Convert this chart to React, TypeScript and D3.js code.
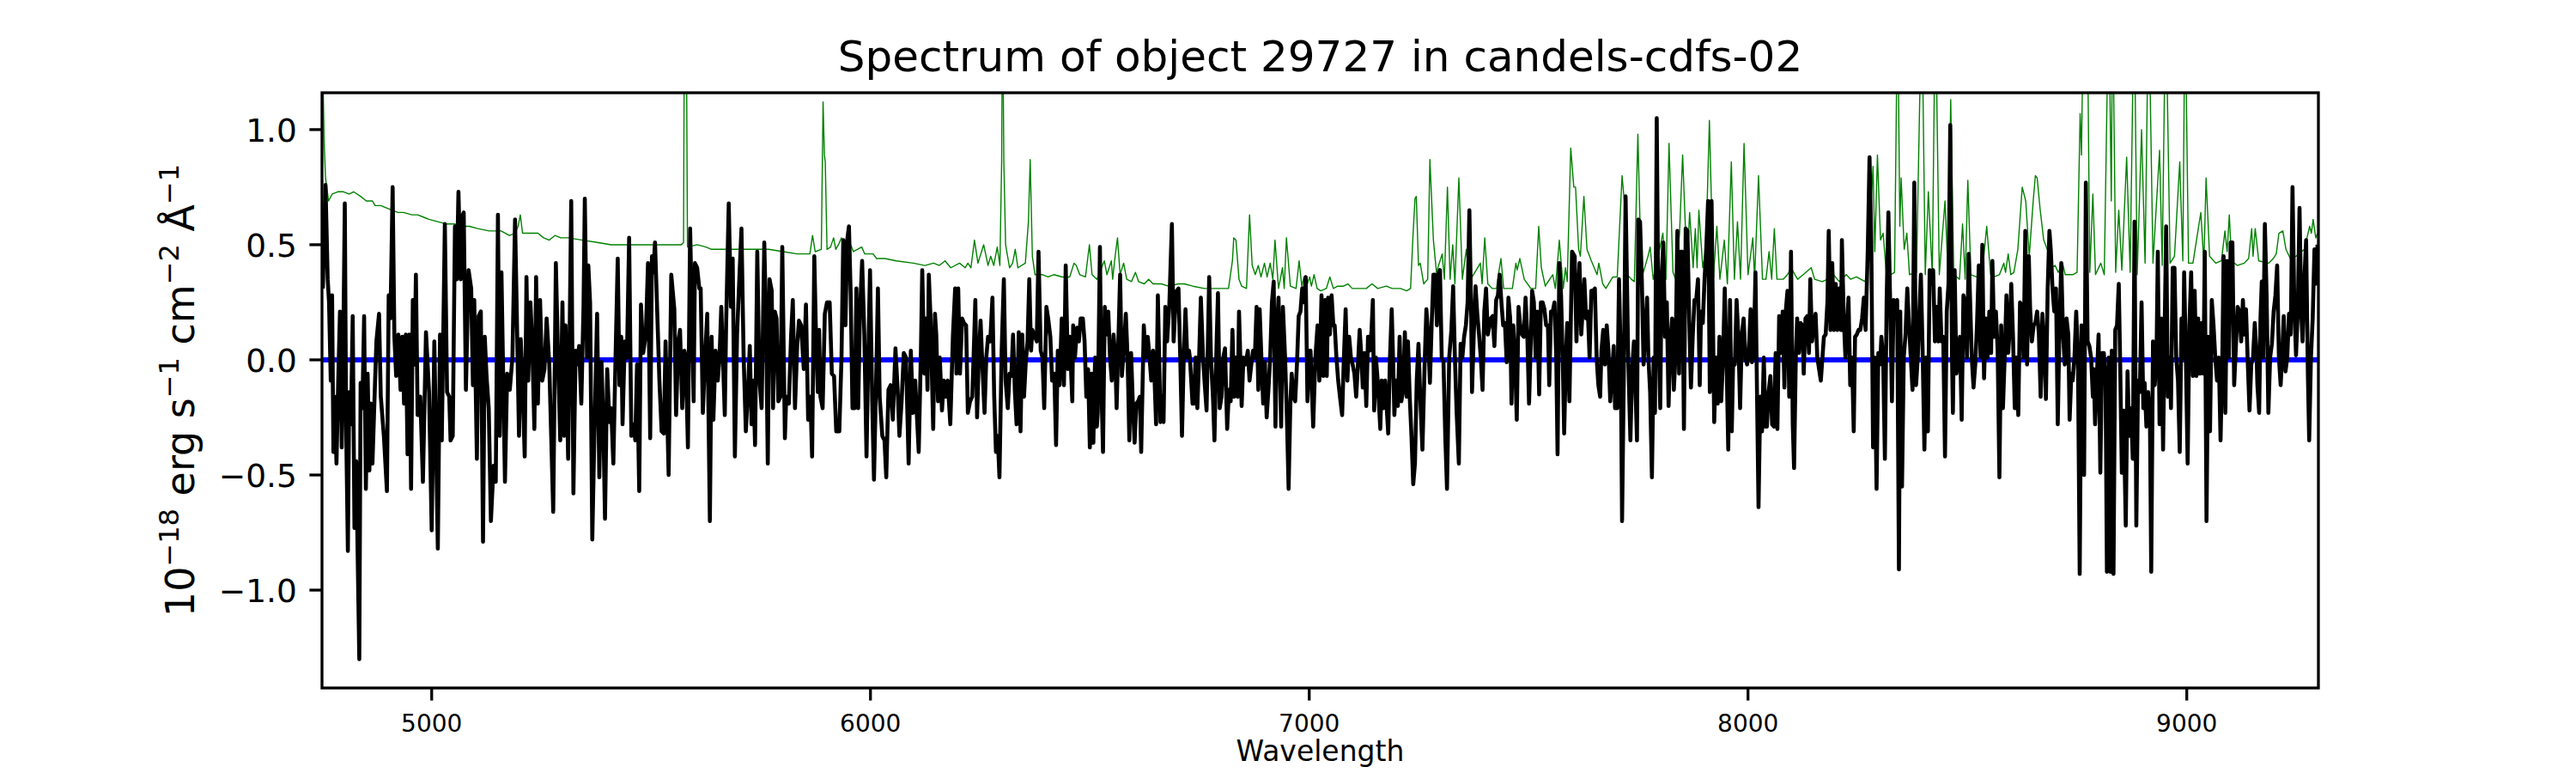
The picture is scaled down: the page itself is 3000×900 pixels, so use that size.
import React from "react";
import * as d3 from "d3";

const W = 3000;
const H = 900;
const M = { left: 375, right: 2700, top: 108, bottom: 801 };
const FONT = "DejaVu Sans";

const titleText = "Spectrum of object 29727 in candels-cdfs-02";
const xLabel = "Wavelength";
const xDomain: [number, number] = [4750, 9300];
const yDomain: [number, number] = [-1.425, 1.16];
const xTicks = [5000, 6000, 7000, 8000, 9000];
const yTicks = [-1.0, -0.5, 0.0, 0.5, 1.0];

// zero / model line (blue)
const zeroLine: [number, number][] = [[4750, 0], [9300, 0]];

// observed flux (black), 1e-18 erg/s/cm2/A
const spectrum: [number, number][] = [
[4752,0.31],[4758,0.76],[4763,0.35],[4766,0.25],[4770,-0.09],[4773,0.28],[4776,-0.40],[4779,-0.16],[4783,-0.45],[4787,-0.09],[4791,0.21],[4795,-0.38],[4799,0.15],[4802,0.68],[4805,-0.29],[4809,-0.83],[4812,-0.14],[4816,-0.28],[4820,0.19],[4824,-0.73],[4828,-0.44],[4835,-1.30],[4838,-0.10],[4842,-0.21],[4846,0.19],[4850,-0.56],[4854,-0.06],[4858,-0.48],[4861,-0.19],[4865,-0.45],[4871,-0.09],[4874,0.08],[4880,0.20],[4884,-0.16],[4891,-0.33],[4898,-0.57],[4902,0.28],[4906,0.18],[4911,0.75],[4915,0.10],[4919,-0.07],[4924,0.11],[4929,-0.13],[4933,0.10],[4937,-0.19],[4941,0.11],[4945,-0.41],[4949,0.11],[4953,-0.56],[4957,0.26],[4961,-0.02],[4964,0.37],[4968,-0.24],[4974,-0.16],[4980,-0.53],[4987,0.12],[4994,-0.14],[5000,-0.74],[5006,0.08],[5014,-0.82],[5019,0.11],[5023,-0.35],[5030,0.59],[5035,-0.14],[5040,-0.16],[5043,-0.35],[5048,-0.33],[5053,0.58],[5057,0.35],[5061,0.73],[5066,0.35],[5069,0.62],[5073,0.64],[5078,-0.13],[5084,0.39],[5090,0.31],[5094,-0.11],[5097,0.26],[5103,-0.43],[5107,0.19],[5112,0.21],[5117,-0.79],[5121,0.10],[5125,-0.07],[5130,-0.21],[5135,-0.70],[5141,-0.46],[5146,-0.53],[5151,0.63],[5155,-0.33],[5159,0.38],[5167,-0.53],[5172,-0.06],[5178,-0.13],[5184,0.01],[5190,0.61],[5194,0.20],[5199,-0.33],[5203,0.09],[5207,-0.09],[5212,-0.42],[5216,0.36],[5220,-0.09],[5225,0.25],[5229,0.08],[5234,-0.30],[5238,0.36],[5242,-0.19],[5247,0.26],[5252,-0.09],[5257,-0.04],[5262,0.18],[5268,-0.02],[5277,-0.66],[5283,0.42],[5288,0.01],[5293,-0.35],[5298,0.25],[5302,-0.33],[5305,0.15],[5311,-0.43],
[5318,0.69],[5323,-0.58],[5328,0.04],[5332,-0.02],[5336,0.06],[5341,-0.19],[5346,0.23],[5349,0.70],[5354,0.01],[5357,0.41],[5361,0.25],[5366,-0.78],[5370,-0.40],[5377,0.20],[5382,-0.51],[5387,-0.01],[5391,-0.26],[5395,-0.69],[5400,-0.04],[5405,-0.27],[5409,-0.21],[5414,-0.45],[5419,0.01],[5424,0.44],[5428,-0.11],[5432,0.10],[5435,-0.28],[5440,0.08],[5445,0.01],[5450,0.53],[5455,-0.33],[5460,-0.28],[5464,-0.35],[5468,-0.02],[5473,-0.57],[5477,0.24],[5482,0.03],[5488,0.11],[5493,0.42],[5498,-0.34],[5502,0.45],[5505,0.38],[5509,0.51],[5514,0.21],[5519,-0.09],[5524,-0.31],[5529,-0.32],[5533,0.08],[5540,-0.50],[5546,0.37],[5553,0.22],[5557,-0.24],[5562,0.08],[5566,0.13],[5571,-0.21],[5576,0.04],[5579,0.01],[5584,-0.38],[5589,0.57],[5593,0.20],[5597,-0.18],[5600,0.42],[5605,0.40],[5610,0.31],[5613,0.31],[5618,-0.23],[5623,0.01],[5628,0.20],[5634,-0.70],[5638,0.10],[5642,-0.26],[5647,0.04],[5652,-0.09],[5656,0.01],[5660,0.23],[5668,-0.24],[5671,0.15],[5677,0.68],[5682,0.23],[5686,0.44],[5691,-0.42],[5696,0.11],[5700,0.30],[5706,0.57],[5711,0.01],[5716,-0.31],[5721,-0.13],[5725,0.06],[5729,-0.28],[5733,-0.09],[5737,-0.37],[5742,0.47],[5747,-0.09],[5752,-0.21],[5758,0.51],[5762,0.18],[5766,-0.45],[5770,0.35],[5775,0.30],[5778,-0.21],[5782,0.21],[5786,0.18],[5790,-0.18],[5795,-0.16],[5799,0.49],[5805,-0.34],[5808,-0.16],[5814,-0.19],[5819,0.10],[5823,0.26],[5828,-0.21],[5833,0.06],[5837,0.17],[5842,0.15],[5848,-0.04],[5853,0.24],[5858,-0.26],[5863,-0.16],[5867,-0.42],[5872,0.45],[5876,0.10],[5880,-0.14],[5883,0.13],
[5886,-0.16],[5891,-0.21],[5896,0.20],[5901,0.25],[5907,0.25],[5912,-0.06],[5917,-0.07],[5922,-0.31],[5929,-0.31],[5934,0.01],[5938,0.52],[5943,0.15],[5947,0.52],[5951,0.58],[5955,0.28],[5959,-0.21],[5964,-0.21],[5968,0.31],[5972,-0.21],[5976,0.20],[5981,0.43],[5986,0.11],[5991,-0.42],[5995,0.01],[5999,0.39],[6004,-0.18],[6008,-0.52],[6014,0.01],[6017,0.31],[6021,-0.16],[6027,-0.33],[6032,-0.35],[6036,-0.51],[6041,-0.13],[6046,-0.11],[6051,-0.26],[6057,0.05],[6062,-0.13],[6066,-0.33],[6071,-0.18],[6076,0.03],[6081,0.01],[6087,-0.45],[6092,0.04],[6097,-0.23],[6102,-0.09],[6105,-0.21],[6110,-0.40],[6115,0.04],[6118,0.39],[6123,-0.06],[6126,0.18],[6130,-0.13],[6133,0.37],[6137,0.18],[6143,-0.30],[6147,0.20],[6150,0.11],[6154,-0.18],[6158,0.01],[6163,-0.22],[6167,-0.09],[6171,-0.16],[6176,-0.09],[6182,-0.28],[6188,0.11],[6193,0.31],[6196,-0.06],[6200,0.31],[6204,-0.06],[6209,0.18],[6213,0.16],[6218,0.15],[6222,-0.23],[6227,-0.18],[6232,-0.16],[6235,0.01],[6239,0.26],[6243,-0.25],[6247,0.01],[6251,0.17],[6255,-0.02],[6260,-0.23],[6264,0.01],[6268,0.10],[6273,0.08],[6278,0.27],[6282,-0.16],[6286,-0.40],[6290,-0.33],[6294,-0.51],[6299,0.04],[6304,0.35],[6308,-0.09],[6313,-0.21],[6317,-0.06],[6321,-0.07],[6325,0.11],[6329,-0.13],[6333,-0.28],[6338,0.12],[6342,-0.31],[6346,0.11],[6350,-0.16],[6354,-0.01],[6358,0.08],[6362,0.35],[6366,0.04],[6369,0.13],[6373,0.11],[6379,0.08],[6383,0.47],[6388,0.04],[6392,0.01],[6396,-0.21],[6401,0.23],[6405,0.18],[6410,0.10],[6414,-0.09],[6419,-0.06],[6423,-0.37],[6427,0.04],[6431,-0.11],[6436,0.18],[6441,-0.11],[6445,0.41],[6450,-0.04],[6454,0.10],
[6460,-0.18],[6462,0.15],[6466,0.01],[6471,0.14],[6475,0.08],[6479,0.18],[6484,0.18],[6488,0.08],[6492,-0.16],[6496,-0.04],[6500,-0.38],[6504,-0.06],[6508,-0.36],[6512,0.01],[6516,-0.29],[6518,-0.23],[6523,0.49],[6526,-0.09],[6530,-0.40],[6534,0.23],[6538,0.11],[6542,0.21],[6546,0.01],[6550,-0.09],[6554,0.11],[6558,0.01],[6561,-0.21],[6565,0.08],[6569,0.37],[6573,-0.07],[6577,0.03],[6582,0.20],[6586,0.01],[6590,-0.35],[6594,0.03],[6598,-0.19],[6602,-0.36],[6606,-0.19],[6610,-0.18],[6614,-0.16],[6617,-0.40],[6623,0.15],[6627,0.01],[6632,0.10],[6636,0.01],[6640,-0.09],[6644,0.04],[6647,-0.06],[6651,-0.28],[6655,0.28],[6661,-0.27],[6664,-0.16],[6668,-0.27],[6672,0.23],[6676,0.08],[6681,0.23],[6687,0.59],[6691,0.08],[6694,0.20],[6698,0.30],[6702,0.31],[6706,0.01],[6710,-0.33],[6714,0.01],[6718,0.22],[6722,0.01],[6726,0.04],[6728,0.01],[6734,-0.19],[6737,-0.19],[6741,0.01],[6745,-0.21],[6749,0.01],[6753,0.27],[6758,0.01],[6762,-0.11],[6766,-0.22],[6772,0.36],[6776,0.01],[6781,-0.18],[6784,-0.35],[6788,0.01],[6792,0.29],[6796,-0.21],[6800,-0.16],[6804,0.01],[6808,0.05],[6813,-0.30],[6817,-0.13],[6821,-0.18],[6825,0.13],[6829,-0.16],[6833,0.01],[6837,-0.16],[6840,0.21],[6846,-0.20],[6850,0.01],[6855,-0.02],[6860,0.04],[6864,-0.09],[6868,-0.02],[6872,0.04],[6876,0.01],[6880,0.23],[6884,-0.13],[6887,0.22],[6891,0.01],[6895,-0.19],[6899,-0.01],[6903,-0.25],[6907,-0.13],[6911,0.01],[6915,0.25],[6919,0.34],[6923,-0.29],[6927,0.15],[6930,0.27],[6936,-0.29],[6940,0.23],[6945,0.01],[6949,-0.24],[6953,-0.56],[6957,-0.19],[6960,-0.06],[6964,-0.16],[6968,-0.18],[6972,-0.02],[6976,0.19],[6980,0.21],[6984,0.31],[6988,0.25],[6992,0.36],[6996,-0.18],[7000,0.04],[7003,0.04],[7009,-0.29],[7014,0.01],[7019,0.15],[7023,-0.09],
[7028,0.28],[7032,-0.07],[7036,0.26],[7040,-0.07],[7043,0.27],[7047,0.11],[7051,0.28],[7055,0.15],[7058,0.15],[7062,0.01],[7066,-0.09],[7070,-0.16],[7075,-0.24],[7079,0.01],[7083,0.22],[7087,-0.09],[7091,0.10],[7095,0.01],[7099,-0.02],[7103,-0.06],[7107,-0.16],[7111,-0.02],[7115,0.13],[7118,0.04],[7122,-0.12],[7126,0.03],[7130,-0.20],[7134,0.10],[7138,0.04],[7142,0.13],[7145,0.26],[7148,-0.22],[7152,0.01],[7156,-0.09],[7162,-0.30],[7165,-0.09],[7169,-0.21],[7173,-0.09],[7180,-0.32],[7184,0.01],[7188,0.22],[7191,0.01],[7194,-0.24],[7198,-0.09],[7202,-0.20],[7206,0.10],[7210,-0.18],[7214,-0.13],[7218,0.12],[7222,-0.16],[7225,0.08],[7229,-0.16],[7233,-0.33],[7237,-0.54],[7241,-0.45],[7245,-0.09],[7249,0.07],[7253,-0.16],[7258,-0.39],[7263,-0.02],[7267,0.22],[7271,0.11],[7275,-0.10],[7279,0.15],[7283,0.37],[7287,0.37],[7291,0.15],[7295,0.38],[7298,0.39],[7302,0.01],[7306,-0.01],[7310,-0.33],[7314,-0.56],[7319,0.01],[7324,0.13],[7328,0.32],[7332,0.01],[7336,-0.23],[7341,-0.45],[7345,0.07],[7349,0.01],[7353,0.10],[7357,0.15],[7361,0.25],[7365,0.65],[7369,0.21],[7371,-0.14],[7375,0.11],[7379,0.32],[7383,0.20],[7387,0.11],[7391,0.01],[7395,-0.13],[7399,0.21],[7403,0.31],[7407,0.11],[7411,0.15],[7414,0.18],[7418,0.19],[7422,0.06],[7426,0.26],[7430,0.28],[7434,0.37],[7438,0.25],[7442,0.15],[7446,0.16],[7450,-0.01],[7454,0.27],[7458,0.18],[7461,-0.19],[7465,0.15],[7469,0.01],[7473,-0.26],[7477,0.23],[7481,0.15],[7485,0.11],[7489,0.10],[7493,0.27],[7497,0.11],[7501,-0.19],[7504,0.01],[7508,0.30],[7512,0.25],[7516,0.01],[7520,0.21],[7524,-0.15],[7528,0.25],[7532,0.25],[7536,0.22],[7540,0.15],[7544,0.15],[7547,-0.11],[7551,0.21],[7555,0.21],[7559,0.25],[7563,0.01],[7566,-0.41],[7570,0.42],[7574,0.28],[7578,-0.02],[7581,-0.32],[7585,0.01],[7588,0.16],[7593,-0.18],
[7599,0.47],[7605,0.45],[7609,0.08],[7612,0.25],[7616,0.42],[7620,0.11],[7623,0.21],[7627,0.35],[7631,0.18],[7635,0.21],[7639,0.01],[7643,0.30],[7647,0.30],[7651,0.31],[7655,0.01],[7659,-0.11],[7663,-0.16],[7666,0.04],[7670,0.13],[7674,-0.02],[7678,0.15],[7682,0.04],[7686,-0.18],[7690,-0.06],[7694,0.06],[7697,-0.21],[7702,-0.21],[7706,0.35],[7710,0.01],[7713,-0.70],[7717,-0.06],[7721,0.71],[7727,0.01],[7732,-0.35],[7736,-0.04],[7740,0.08],[7743,-0.09],[7747,-0.35],[7750,0.61],[7754,0.60],[7758,0.35],[7762,-0.02],[7766,0.13],[7770,0.27],[7773,0.01],[7777,-0.14],[7781,-0.51],[7785,0.01],[7788,-0.23],[7792,1.05],[7796,0.11],[7800,-0.21],[7803,0.35],[7807,0.51],[7811,0.10],[7815,0.25],[7819,-0.20],[7823,0.08],[7827,0.18],[7831,-0.13],[7835,0.03],[7839,0.56],[7843,-0.06],[7846,0.47],[7850,0.47],[7854,-0.30],[7858,0.57],[7862,0.56],[7866,0.18],[7870,-0.12],[7874,0.10],[7878,0.26],[7882,0.26],[7886,0.35],[7890,-0.11],[7893,0.21],[7897,0.16],[7901,0.35],[7905,0.49],[7909,0.69],[7913,-0.14],[7917,0.69],[7921,0.03],[7923,-0.27],[7927,0.01],[7931,-0.19],[7935,0.10],[7939,-0.18],[7943,0.00],[7947,0.31],[7951,0.01],[7955,-0.39],[7959,0.26],[7963,-0.31],[7966,-0.02],[7970,-0.02],[7974,0.26],[7978,0.10],[7982,-0.21],[7986,0.11],[7990,0.18],[7994,0.01],[7998,-0.02],[8002,0.04],[8006,0.22],[8009,-0.01],[8013,0.03],[8017,0.38],[8021,-0.21],[8024,-0.64],[8028,-0.16],[8032,-0.31],[8036,0.01],[8040,-0.29],[8043,-0.29],[8047,-0.14],[8051,-0.07],[8055,-0.28],[8059,-0.29],[8063,0.03],[8067,-0.30],[8071,0.19],[8075,0.03],[8079,0.21],[8083,-0.12],[8086,0.21],[8090,0.30],[8094,-0.16],[8098,0.47],[8102,-0.28],[8105,-0.47],[8109,0.01],[8112,0.18],[8116,0.03],[8120,0.16],[8124,0.15],[8127,-0.06],[8131,0.18],[8135,0.19],[8139,0.03],[8142,0.35],[8146,0.08],[8150,0.15],[8154,0.20],[8158,0.01],[8166,-0.09],
[8173,0.10],[8177,0.11],[8181,0.25],[8184,0.56],[8188,0.13],[8192,0.42],[8196,0.13],[8200,0.33],[8204,0.13],[8208,0.31],[8212,0.13],[8214,0.52],[8218,0.20],[8222,0.01],[8226,0.15],[8229,0.27],[8233,-0.11],[8237,0.01],[8241,-0.31],[8244,0.10],[8248,0.11],[8252,0.13],[8256,0.13],[8260,0.18],[8264,0.27],[8268,0.13],[8273,0.48],[8277,0.88],[8281,0.52],[8285,-0.38],[8289,0.01],[8293,-0.56],[8297,0.03],[8301,-0.02],[8304,0.10],[8308,0.01],[8312,-0.43],[8316,0.26],[8320,0.64],[8324,0.25],[8328,-0.18],[8332,0.26],[8336,0.18],[8340,0.26],[8344,-0.91],[8347,0.21],[8351,-0.55],[8355,0.01],[8359,0.11],[8363,0.31],[8367,0.15],[8371,0.01],[8375,-0.13],[8379,0.77],[8383,-0.11],[8387,0.01],[8390,0.18],[8394,0.37],[8398,0.04],[8402,-0.39],[8406,0.01],[8410,-0.31],[8414,0.39],[8418,0.33],[8422,0.39],[8426,0.08],[8430,0.23],[8434,0.08],[8437,0.31],[8441,0.08],[8445,0.10],[8449,-0.42],[8453,0.21],[8457,0.33],[8461,1.02],[8465,0.01],[8467,-0.23],[8471,0.39],[8475,-0.06],[8479,0.01],[8483,0.10],[8487,-0.26],[8491,0.28],[8495,0.25],[8499,0.01],[8503,0.46],[8507,0.21],[8510,0.01],[8514,-0.12],[8518,-0.02],[8522,0.16],[8526,0.41],[8530,0.01],[8534,0.50],[8538,-0.08],[8542,0.18],[8546,0.01],[8550,0.21],[8554,0.03],[8557,0.43],[8561,0.10],[8565,0.21],[8569,0.04],[8573,-0.51],[8577,0.15],[8581,-0.21],[8585,0.01],[8589,0.28],[8593,0.03],[8597,0.15],[8600,0.33],[8604,0.10],[8608,-0.21],[8612,0.01],[8616,-0.24],[8620,0.25],[8624,0.23],[8628,0.01],[8632,0.56],[8636,-0.02],[8640,0.45],[8643,0.22],[8647,0.08],[8651,0.15],[8655,0.16],[8659,0.21],[8663,0.11],[8667,-0.16],[8671,0.20],[8675,0.06],[8679,-0.17],[8683,0.31],[8687,0.56],[8690,0.48],[8694,0.31],[8698,0.21],[8702,0.31],[8706,-0.28],[8710,0.15],[8714,0.42],[8718,0.11],[8722,-0.02],[8726,0.18],[8730,0.11],[8733,-0.26],[8737,-0.06],
[8740,-0.09],[8744,0.01],[8748,0.21],[8752,0.01],[8756,-0.93],[8760,0.15],[8764,-0.02],[8766,-0.50],[8770,0.77],[8774,0.08],[8778,0.06],[8782,0.01],[8786,-0.16],[8788,-0.04],[8791,-0.28],[8795,-0.08],[8799,0.11],[8803,-0.49],[8807,0.03],[8811,0.03],[8815,-0.11],[8818,-0.92],[8822,0.01],[8826,-0.92],[8829,0.04],[8833,-0.93],[8837,0.13],[8841,0.15],[8845,0.33],[8848,0.01],[8852,-0.49],[8856,-0.22],[8861,-0.72],[8865,-0.05],[8869,-0.33],[8873,-0.21],[8877,-0.43],[8881,0.60],[8885,-0.72],[8889,-0.09],[8893,-0.14],[8897,0.25],[8901,-0.21],[8904,-0.10],[8908,-0.29],[8912,-0.14],[8916,-0.24],[8919,-0.92],[8923,0.08],[8927,-0.11],[8931,0.01],[8934,0.47],[8938,-0.28],[8942,0.18],[8946,-0.39],[8950,0.18],[8953,0.58],[8957,-0.16],[8961,0.01],[8964,-0.21],[8968,0.40],[8972,0.40],[8976,0.01],[8980,-0.09],[8984,-0.40],[8988,0.18],[8992,0.01],[8994,0.38],[8998,0.01],[9002,-0.45],[9006,0.15],[9010,0.38],[9014,-0.07],[9018,0.30],[9022,-0.07],[9026,0.18],[9030,-0.06],[9034,0.16],[9038,-0.06],[9041,0.47],[9045,-0.70],[9049,0.10],[9053,-0.31],[9057,0.26],[9061,0.15],[9065,0.01],[9069,-0.09],[9073,0.01],[9077,-0.35],[9081,0.01],[9084,0.45],[9088,-0.23],[9092,0.43],[9096,0.01],[9100,0.51],[9104,0.51],[9108,-0.11],[9112,0.06],[9116,0.23],[9120,0.21],[9124,0.08],[9128,0.26],[9131,0.11],[9135,0.22],[9139,-0.01],[9143,-0.22],[9147,-0.02],[9151,0.01],[9155,0.16],[9159,0.03],[9161,-0.11],[9165,-0.23],[9168,0.18],[9171,0.34],[9174,0.01],[9178,0.59],[9182,0.28],[9186,-0.23],[9190,0.01],[9194,0.07],[9198,0.21],[9202,0.28],[9206,0.41],[9210,0.01],[9214,-0.11],[9217,0.01],[9221,0.19],[9225,-0.05],[9229,0.01],[9233,0.20],[9237,0.11],[9241,0.75],[9245,0.25],[9249,0.02],[9253,0.21],[9257,0.66],[9261,0.20],[9264,0.08],[9268,0.35],[9272,0.52],[9276,-0.06],[9279,-0.35],[9283,0.01],[9287,0.18],[9291,0.48],[9294,0.33],[9298,0.50],
];

// noise / sky spectrum (green)
const noise: [number, number][] = [
[4751,1.35],[4755,0.94],[4758,0.79],[4765,0.69],[4773,0.72],[4786,0.73],[4799,0.73],[4812,0.72],[4822,0.73],[4838,0.71],[4851,0.69],[4861,0.69],[4865,0.69],[4871,0.67],[4884,0.67],[4897,0.66],[4910,0.65],[4923,0.64],[4936,0.64],[4955,0.63],[4968,0.63],[4981,0.62],[4994,0.61],[5014,0.60],[5034,0.59],[5053,0.59],[5066,0.58],[5086,0.58],[5105,0.57],[5131,0.56],[5158,0.56],[5177,0.54],[5190,0.55],[5197,0.58],[5202,0.63],[5207,0.55],[5223,0.55],[5242,0.55],[5255,0.53],[5268,0.52],[5281,0.54],[5294,0.53],[5311,0.53],[5344,0.52],[5377,0.51],[5409,0.50],[5442,0.50],[5475,0.50],[5507,0.50],[5540,0.50],[5569,0.50],[5574,0.51],[5576,1.6],[5580,1.6],[5583,0.49],[5605,0.50],[5625,0.49],[5638,0.48],[5664,0.48],[5690,0.48],[5735,0.48],[5768,0.48],[5801,0.47],[5833,0.46],[5862,0.46],[5868,0.54],[5874,0.47],[5888,0.48],[5892,1.12],[5895,0.89],[5897,0.86],[5901,0.48],[5909,0.49],[5916,0.53],[5921,0.48],[5927,0.50],[5934,0.53],[5942,0.48],[5955,0.50],[5961,0.47],[5980,0.49],[5987,0.46],[6006,0.46],[6014,0.44],[6033,0.44],[6059,0.43],[6098,0.42],[6124,0.41],[6144,0.42],[6157,0.41],[6170,0.43],[6183,0.40],[6203,0.42],[6216,0.40],[6222,0.42],[6229,0.40],[6237,0.52],[6245,0.42],[6258,0.50],[6268,0.41],[6274,0.45],[6281,0.41],[6289,0.49],[6295,0.41],[6299,0.86],[6301,1.6],[6304,0.86],[6308,0.50],[6317,0.40],[6324,0.42],[6330,0.48],[6336,0.40],[6353,0.42],[6360,0.60],[6364,0.87],[6369,0.45],[6375,0.37],[6392,0.37],[6405,0.36],[6418,0.37],[6437,0.36],[6454,0.36],[6464,0.42],[6469,0.41],[6477,0.37],[6490,0.36],[6499,0.50],[6505,0.37],[6516,0.35],[6533,0.43],[6539,0.37],[6549,0.43],[6552,0.35],[6557,0.44],[6563,0.53],[6569,0.37],[6577,0.42],[6584,0.35],[6595,0.34],[6604,0.38],[6611,0.34],[6624,0.33],[6634,0.35],[6644,0.33],[6663,0.33],[6679,0.32],[6702,0.33],[6715,0.33],[6735,0.32],[6761,0.31],[6787,0.31],[6816,0.31],[6825,0.43],[6828,0.53],[6833,0.52],[6840,0.35],[6846,0.32],[6857,0.31],[6864,0.63],[6870,0.41],[6877,0.37],[6884,0.41],[6890,0.36],[6898,0.42],[6904,0.36],[6911,0.42],[6917,0.35],[6922,0.52],[6930,0.31],[6939,0.40],[6943,0.31],[6948,0.53],[6957,0.32],[6970,0.31],[6977,0.43],[6983,0.32],[6988,0.36],[6992,0.31],[7001,0.36],[7005,0.32],[7011,0.37],[7018,0.31],[7026,0.30],[7039,0.31],[7047,0.36],[7055,0.31],[7065,0.32],[7078,0.32],[7088,0.33],[7098,0.31],[7117,0.31],[7130,0.31],[7143,0.33],[7156,0.31],[7176,0.32],[7189,0.31],[7208,0.31],[7222,0.30],[7231,0.31],[7236,0.52],[7241,0.70],[7244,0.71],[7249,0.41],[7253,0.42],[7261,0.33],[7270,0.35],[7275,0.87],[7283,0.52],[7290,0.38],[7303,0.46],[7308,0.35],[7315,0.75],[7321,0.35],[7327,0.50],[7332,0.33],[7341,0.79],[7349,0.35],[7358,0.48],[7365,0.34],[7390,0.42],[7394,0.33],[7400,0.53],[7407,0.33],[7417,0.31],[7427,0.31],[7431,0.37],[7437,0.44],[7443,0.31],[7453,0.31],[7463,0.31],[7471,0.42],[7474,0.39],[7480,0.44],[7490,0.35],[7505,0.31],[7516,0.31],[7523,0.58],[7529,0.40],[7538,0.32],[7541,0.33],[7555,0.37],[7561,0.31],[7570,0.52],[7579,0.31],[7584,0.40],[7588,0.34],[7596,0.92],[7603,0.75],[7607,0.75],[7614,0.48],[7618,0.45],[7626,0.71],[7633,0.48],[7643,0.43],[7656,0.37],[7660,0.42],[7669,0.33],[7676,0.31],[7692,0.36],[7702,0.36],[7713,0.80],[7718,0.69],[7725,0.37],[7734,0.35],[7741,0.34],[7749,0.98],[7757,0.35],[7772,0.45],[7777,0.49],[7784,0.35],[7806,0.55],[7813,0.35],[7820,0.94],[7829,0.38],[7835,0.35],[7844,0.55],[7851,0.89],[7857,0.59],[7862,0.45],[7867,0.64],[7875,0.40],[7880,0.57],[7884,0.40],[7888,0.65],[7897,0.40],[7904,0.48],[7912,1.04],[7921,0.35],[7929,0.58],[7936,0.35],[7946,0.52],[7953,0.33],[7962,0.86],[7969,0.35],[7976,0.60],[7983,0.35],[7991,0.94],[8000,0.37],[8011,0.53],[8015,0.35],[8024,0.80],[8033,0.35],[8041,0.35],[8048,0.47],[8054,0.35],[8060,0.57],[8066,0.35],[8080,0.35],[8090,0.37],[8098,0.40],[8113,0.35],[8126,0.37],[8144,0.40],[8152,0.35],[8169,0.34],[8182,0.35],[8195,0.37],[8208,0.34],[8224,0.37],[8234,0.35],[8247,0.36],[8267,0.34],[8273,0.42],[8285,0.84],[8289,0.47],[8295,0.89],[8302,0.52],[8308,0.55],[8315,0.38],[8325,0.37],[8334,0.38],[8341,1.6],[8346,0.58],[8349,0.79],[8356,0.48],[8362,0.55],[8368,0.37],[8384,0.38],[8396,1.6],[8404,0.37],[8411,0.73],[8420,0.37],[8427,1.6],[8436,0.37],[8449,0.69],[8456,0.37],[8462,1.13],[8469,0.37],[8482,0.35],[8489,0.59],[8495,0.35],[8501,0.78],[8508,0.37],[8521,0.36],[8534,0.38],[8544,0.58],[8553,0.37],[8560,0.36],[8573,0.37],[8583,0.42],[8587,0.38],[8593,0.46],[8599,0.37],[8606,0.38],[8615,0.48],[8625,0.75],[8633,0.69],[8641,0.45],[8650,0.69],[8655,0.80],[8659,0.79],[8666,0.65],[8674,0.52],[8684,0.47],[8690,0.40],[8700,0.41],[8707,0.38],[8717,0.42],[8723,0.37],[8740,0.37],[8750,0.38],[8757,1.07],[8760,0.89],[8765,1.6],[8773,1.6],[8779,0.38],[8786,0.72],[8792,0.37],[8804,0.42],[8812,0.37],[8822,1.6],[8828,0.69],[8831,1.6],[8838,0.38],[8845,0.65],[8852,0.39],[8863,0.88],[8871,0.38],[8880,1.6],[8887,0.37],[8897,1.0],[8905,0.42],[8913,1.6],[8923,0.42],[8938,0.91],[8944,0.41],[8952,1.6],[8962,0.42],[8972,0.45],[8984,0.86],[8991,0.43],[8996,1.6],[9004,0.42],[9014,0.42],[9032,0.64],[9039,0.42],[9044,0.79],[9052,0.45],[9066,0.42],[9079,0.43],[9087,0.56],[9092,0.47],[9097,0.63],[9102,0.43],[9115,0.41],[9131,0.42],[9141,0.44],[9148,0.57],[9151,0.45],[9156,0.57],[9164,0.43],[9187,0.42],[9197,0.44],[9204,0.46],[9210,0.55],[9219,0.56],[9226,0.48],[9236,0.44],[9249,0.45],[9268,0.48],[9280,0.58],[9284,0.55],[9288,0.61],[9294,0.53],[9298,0.55],
];

export default function App() {
  const x = d3.scaleLinear().domain(xDomain).range([M.left, M.right]);
  const y = d3.scaleLinear().domain(yDomain).range([M.bottom, M.top]);
  const line = d3
    .line<[number, number]>()
    .x((d) => x(d[0]))
    .y((d) => y(d[1]));
  const fmtY = d3.format(".1f");
  const tickLen = 14.6;
  const pad = 14.6;
  const cx = (M.left + M.right) / 2;
  const cy = (M.top + M.bottom) / 2;
  const sup = -18;
  const supSize = 32;

  return (
    <div style={{ width: W, height: H }}>
      <style>{"body{margin:0;background:#fff}"}</style>
      <svg width={W} height={H} viewBox={`0 0 ${W} ${H}`} style={{ display: "block", fontFamily: FONT }}>
        <rect x={0} y={0} width={W} height={H} fill="#fff" />
        <defs>
          <clipPath id="plotClip">
            <rect x={M.left} y={M.top} width={M.right - M.left} height={M.bottom - M.top} />
          </clipPath>
        </defs>
        <g clipPath="url(#plotClip)">
          <path d={line(noise) || ""} fill="none" stroke="#008000" strokeWidth={1.4} strokeLinejoin="round" />
          <path d={line(zeroLine) || ""} fill="none" stroke="#0000ff" strokeWidth={6} />
          <path d={line(spectrum) || ""} fill="none" stroke="#000" strokeWidth={4.6} strokeLinejoin="round" />
        </g>
        {/* spines */}
        <rect
          x={M.left}
          y={M.top}
          width={M.right - M.left}
          height={M.bottom - M.top}
          fill="none"
          stroke="#000"
          strokeWidth={3.3}
        />
        {/* x ticks */}
        {xTicks.map((t) => (
          <g key={"x" + t}>
            <line x1={x(t)} x2={x(t)} y1={M.bottom} y2={M.bottom + tickLen} stroke="#000" strokeWidth={3.3} />
            <text x={x(t)} y={852} textAnchor="middle" fontSize={28} fill="#000">
              {t}
            </text>
          </g>
        ))}
        {/* y ticks */}
        {yTicks.map((t) => (
          <g key={"y" + t}>
            <line x1={M.left - tickLen} x2={M.left} y1={y(t)} y2={y(t)} stroke="#000" strokeWidth={3.3} />
            <text x={M.left - tickLen - pad} y={y(t) + 13.7} textAnchor="end" fontSize={37.5} fill="#000">
              {fmtY(t)}
            </text>
          </g>
        ))}
        {/* title */}
        <text x={cx} y={83} textAnchor="middle" fontSize={50} fill="#000">
          {titleText}
        </text>
        {/* x label */}
        <text x={cx} y={886} textAnchor="middle" fontSize={33} fill="#000">
          {xLabel}
        </text>
        {/* y label */}
        <text transform={`translate(226,${cy}) rotate(-90)`} textAnchor="middle" fontSize={46} fill="#000">
          <tspan>10</tspan>
          <tspan fontSize={supSize} dy={sup}>{"\u221218"}</tspan>
          <tspan dy={-sup}>{" erg s"}</tspan>
          <tspan fontSize={supSize} dy={sup}>{"\u22121"}</tspan>
          <tspan dy={-sup}>{" cm"}</tspan>
          <tspan fontSize={supSize} dy={sup}>{"\u22122"}</tspan>
          <tspan dy={-sup}>{" \u00C5"}</tspan>
          <tspan fontSize={supSize} dy={sup}>{"\u22121"}</tspan>
        </text>
      </svg>
    </div>
  );
}
